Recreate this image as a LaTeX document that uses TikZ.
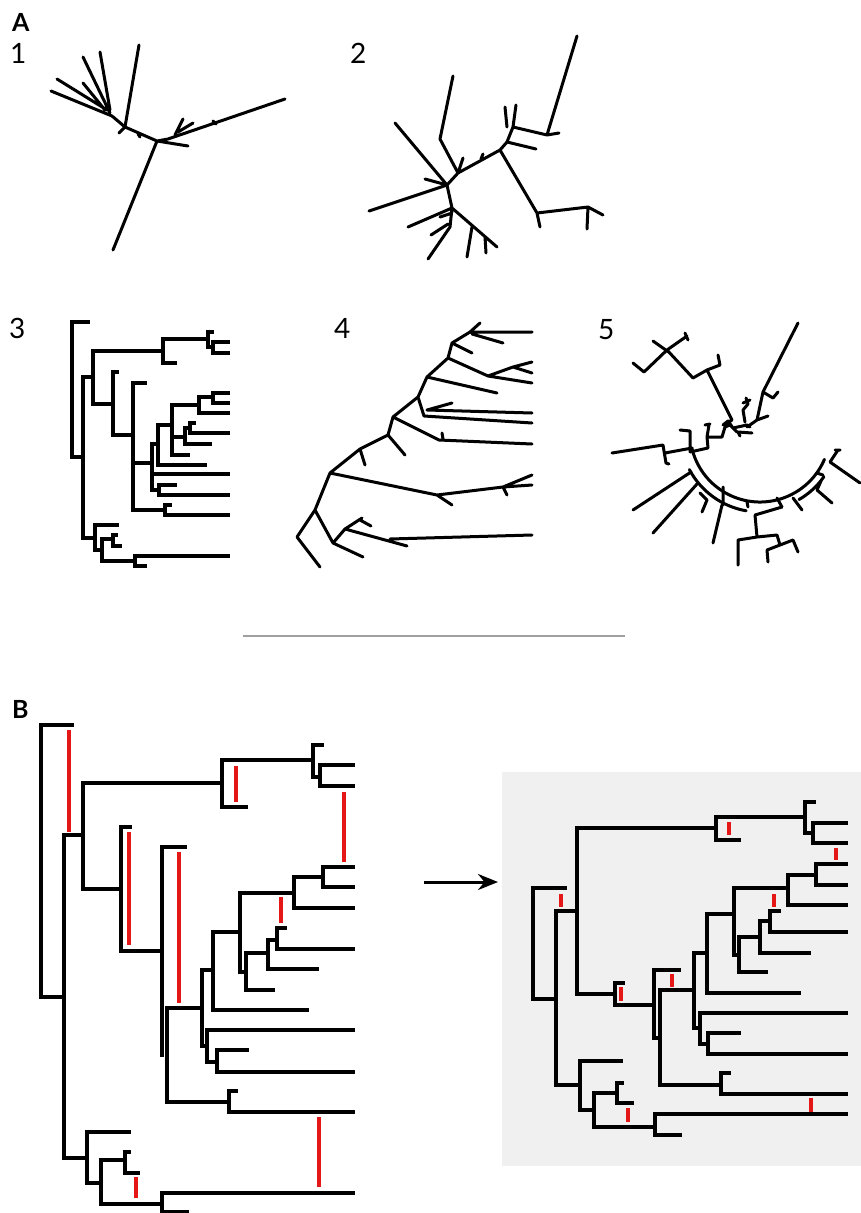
\documentclass[tikz,border=0pt]{standalone}
\usepackage{fontspec}
\newfontfamily\lab{Lato}
\usetikzlibrary{arrows.meta}
\definecolor{redl}{RGB}{228,22,22}
\definecolor{bgg}{RGB}{240,240,240}
\definecolor{sepg}{RGB}{160,160,160}
\begin{document}
\begin{tikzpicture}[x=1pt,y=-1pt,
 br/.style={line width=3pt,line cap=round,line join=round},
 cl/.style={line width=3.3pt,line cap=rect},
 rd/.style={line width=3.2pt,redl},
 lbl/.style={font=\lab\fontsize{28}{28}\selectfont,anchor=base west,inner sep=0pt},
 plbl/.style={font=\lab\bfseries\fontsize{25}{25}\selectfont,anchor=base west,inner sep=0pt}]
\useasboundingbox (0,0) rectangle (861,1213);

% ---------- labels ----------
\node[plbl] (labA) at (12,31) {A};
\node[lbl] (lab1) at (10,63) {1};
\node[lbl] (lab2) at (350,63) {2};
\node[lbl] (lab3) at (9,338) {3};
\node[lbl] (lab4) at (334,338) {4};
\node[lbl] (lab5) at (598,339) {5};
\node[plbl] (labB) at (12,718) {B};

% ---------- A1 ----------
\draw[br] (157,141)--(113,250) (157,141)--(188,146)
 (157,141)--(168,139)--(285,99)
 (175,135)--(183,119) (178,132)--(193,123) (213,121)--(216,124)
 (157,141)--(125,127) (140,137)--(138,134)
 (125,127)--(139,45) (125,127)--(119,133) (125,127)--(112,116)
 (112,116)--(51,91) (107,110)--(57,79) (110,113)--(83,57)
 (110,110)--(100,52) (105,110)--(83,83);

% ---------- A2 ----------
\draw[br] (447,185)--(369,211) (447,185)--(395,123) (447,185)--(425,179)
 (447,185)--(458,173) (458,173)--(440,139)--(453,76) (458,173)--(463,158)
 (458,173)--(500,150) (481,159)--(483,154)
 (500,150)--(507,142)--(513,127) (507,127)--(505,107) (513,127)--(516,105)
 (513,127)--(547,135)--(577,36) (547,135)--(559,133)
 (507,142)--(536,149)
 (500,150)--(537,213)--(540,227) (537,213)--(588,207)--(587,229) (588,207)--(603,215)
 (447,185)--(452,208)--(408,227) (452,208)--(497,247)
 (472,227)--(467,257) (485,237)--(486,253)
 (452,208)--(450,227)--(428,259) (448,224)--(431,235) (452,213)--(440,217);

% ---------- A3 ----------
\draw[cl] (72,322)--(72,457) (72,322)--(88,322) (72,457)--(83,457)
 (83,377)--(83,538) (83,377)--(93,377)
 (93,351)--(93,404) (93,351)--(163,351)
 (163,339)--(163,363) (163,339)--(208,339)
 (208,332)--(208,347) (208,332)--(212,332) (208,347)--(213,347)
 (213,342)--(213,353) (213,342)--(228,342) (213,353)--(228,353)
 (163,363)--(175,363)
 (93,404)--(113,404) (113,372)--(113,435) (113,372)--(117,372)
 (113,435)--(133,435) (133,383)--(133,510) (133,383)--(145,383)
 (133,463)--(152,463) (152,444)--(152,490) (152,444)--(158,444)
 (158,425)--(158,465) (158,425)--(172,425)
 (172,405)--(172,455) (172,405)--(199,405)
 (199,397)--(199,413) (199,397)--(213,397)
 (213,393)--(213,403) (213,393)--(228,393) (213,403)--(228,403)
 (199,413)--(228,413) (172,455)--(188,455)
 (172,437)--(185,437) (185,428)--(185,444) (185,428)--(190,428)
 (190,423)--(190,433) (190,423)--(194,423) (190,433)--(228,433)
 (185,444)--(210,444)
 (158,465)--(205,465) (152,474)--(228,474)
 (152,490)--(159,490) (159,485)--(159,495) (159,485)--(175,485) (159,495)--(228,495)
 (133,510)--(165,510) (165,505)--(165,515) (165,505)--(170,505) (165,515)--(228,515)
 (83,538)--(95,538) (95,525)--(95,550) (95,525)--(117,525)
 (95,550)--(102,550) (102,539)--(102,561)
 (102,539)--(113,539) (113,535)--(113,546) (113,535)--(116,535) (113,546)--(120,546)
 (102,561)--(135,561) (135,556)--(135,566) (135,556)--(228,556) (135,566)--(145,566);

% ---------- A4 ----------
\draw[br] (297,537)--(320,567) (297,537)--(315,510)
 (315,510)--(330,473) (315,510)--(333,543)
 (333,543)--(363,557) (333,543)--(345,529)--(407,546) (390,539)--(532,535)
 (345,529)--(362,518) (360,520)--(371,526)
 (330,473)--(437,495)--(452,505) (437,495)--(503,487)
 (503,487)--(532,475) (503,487)--(532,485) (503,487)--(507,495)
 (330,473)--(360,449) (360,449)--(365,465) (360,449)--(388,435)
 (388,435)--(405,455) (388,435)--(393,417)
 (393,417)--(439,440)--(532,444) (442,433)--(443,439)
 (393,417)--(418,397)
 (418,397)--(424,416)--(532,423) (427,410)--(532,413) (427,410)--(452,403)
 (418,397)--(427,377)
 (427,377)--(497,393) (427,377)--(448,358)
 (448,358)--(488,376)--(532,383) (488,376)--(513,367)
 (513,367)--(532,362) (513,367)--(532,373)
 (448,358)--(452,343) (452,343)--(472,353) (452,343)--(470,332)
 (470,332)--(532,332) (470,332)--(480,323) (472,334)--(503,343);

% ---------- A5 ----------
\draw[br] (633,363)--(644,372)--(667,350) (653,341)--(670,353)
 (667,350)--(687,336) (685,333)--(688,340)
 (667,350)--(693,378)--(707,370)--(720,365)--(718,355)
 (707,370)--(732,420)
 (732,420)--(723,425) (723,425)--(728,421)--(733,428)--(747,425)--(750,427)
 (745,422)--(743,410)--(748,404)--(746,398) (743,403)--(750,400)
 (747,427)--(757,420)--(768,416)
 (757,420)--(763,392)--(798,323)
 (763,392)--(773,398)--(778,392)
 (740,436)--(738,432)--(752,433)
 (680,430)--(690,431)--(690,452)
 (612,453)--(663,445)--(666,463)--(669,464)
 (665,453)--(692,448)
 (690,452)--(708,448)--(707,437)--(709,425) (705,425)--(710,424)
 (708,437)--(722,437)--(725,427)--(730,425)--(737,432);
\draw[br] (760,432) ++(167:70) arc[start angle=167,end angle=23,radius=70];
\draw[br] (760,432) ++(152:80) arc[start angle=152,end angle=100,radius=80];
\draw[br] (760,432) ++(60:78) arc[start angle=60,end angle=35,radius=78];
\draw[br] (691,472)--(633,510) (697,484)--(653,533)
 (700,493)--(707,500)--(702,512)
 (722,505)--(713,543) (723,487)--(723,505)
 (747,502)--(748,507) (777,498)--(782,507)
 (755,515)--(782,507) (755,515)--(757,537)
 (757,537)--(738,540)--(738,565)
 (757,537)--(777,535)--(780,545)
 (780,545)--(793,540)--(798,552)
 (780,545)--(767,550)--(768,562)
 (793,498)--(802,510)
 (817,473)--(823,475) (817,490)--(832,503) (817,490)--(821,481)
 (830,462)--(860,483) (830,462)--(838,450) (835,450)--(840,450);

% ---------- separator ----------
\coordinate (s1) at (243,636);
\coordinate (s2) at (625,636);
\draw[sepg,line width=1.6pt] (s1)--(s2);

% ---------- B left ----------
\draw[cl] (41,725)--(41,997) (41,725)--(72,725)
 (41,997)--(64,997) (64,835)--(64,1158)
 (64,835)--(83,835) (83,783)--(83,889)
 (83,783)--(222,783) (222,760)--(222,807) (222,807)--(246,807)
 (222,760)--(313,760) (313,745)--(313,777) (313,745)--(322,745)
 (313,777)--(320,777) (320,765)--(320,786) (320,765)--(353,765) (320,786)--(353,786)
 (83,889)--(121,889) (121,827)--(121,951) (121,827)--(130,827)
 (121,951)--(162,951) (162,847)--(162,1055) (162,847)--(185,847)
 (167,1008)--(167,1102)
 (167,1008)--(202,1008) (202,970)--(202,1046) (202,970)--(213,970)
 (213,932)--(213,1010) (213,932)--(240,932) (240,893)--(240,972)
 (240,893)--(294,893) (294,877)--(294,908)
 (294,877)--(323,877) (323,867)--(323,887) (323,867)--(353,867) (323,887)--(353,887)
 (294,908)--(353,908)
 (240,972)--(246,972) (246,953)--(246,990)
 (246,953)--(268,953) (268,940)--(268,969) (268,940)--(277,940)
 (277,928)--(277,949) (277,928)--(285,928) (277,949)--(353,949)
 (268,969)--(317,969) (246,990)--(273,990)
 (213,1010)--(307,1010)
 (202,1046)--(207,1046) (207,1030)--(207,1062) (207,1030)--(353,1030)
 (207,1062)--(217,1062) (217,1050)--(217,1072) (217,1050)--(247,1050) (217,1072)--(353,1072)
 (167,1102)--(229,1102) (229,1091)--(229,1112) (229,1091)--(236,1091) (229,1112)--(353,1112)
 (64,1158)--(87,1158) (87,1132)--(87,1183) (87,1132)--(129,1132)
 (87,1183)--(101,1183) (101,1160)--(101,1204)
 (101,1160)--(125,1160) (125,1152)--(125,1173) (125,1152)--(129,1152) (125,1173)--(138,1173)
 (101,1204)--(162,1204) (162,1193)--(162,1212) (162,1193)--(353,1193) (162,1212)--(187,1212);
\draw[rd] (69,730)--(69,832) (236,766)--(236,802) (344,792)--(344,862)
 (129,832)--(129,945) (179,852)--(179,1003) (281,897)--(281,923)
 (319,1117)--(319,1187) (136,1177)--(136,1198);

% ---------- arrow ----------
\coordinate (as) at (424,882);
\coordinate (ae) at (498,882);
\draw[line width=3pt,-{Stealth[length=20pt,width=16pt]}] (as)--(ae);

% ---------- B right ----------
\fill[bgg] (502,772) rectangle (861,1166);
\draw[cl] (533,888)--(533,999) (533,888)--(565,888) (533,999)--(556,999)
 (556,911)--(556,1085) (556,911)--(577,911) (577,828)--(577,994)
 (577,828)--(716,828) (716,817)--(716,840) (716,840)--(739,840)
 (716,817)--(805,817) (805,802)--(805,833) (805,802)--(814,802)
 (805,833)--(813,833) (813,823)--(813,843) (813,823)--(846,823) (813,843)--(846,843)
 (577,994)--(615,994) (615,983)--(615,1005) (615,983)--(623,983)
 (615,1005)--(654,1005) (654,970)--(654,1038) (654,970)--(679,970)
 (654,1038)--(660,1038) (660,990)--(660,1085)
 (660,990)--(694,990) (694,953)--(694,1028)
 (694,953)--(707,953) (707,914)--(707,993)
 (707,914)--(734,914) (734,888)--(734,955)
 (734,888)--(788,888) (788,875)--(788,905) (788,875)--(816,875)
 (816,864)--(816,885) (816,864)--(846,864) (816,885)--(846,885) (788,905)--(846,905)
 (734,955)--(739,955) (739,937)--(739,972)
 (739,937)--(760,937) (760,921)--(760,953) (760,921)--(770,921)
 (770,911)--(770,932) (770,911)--(779,911) (770,932)--(846,932) (760,953)--(809,953)
 (739,972)--(766,972)
 (707,993)--(799,993)
 (694,1028)--(700,1028) (700,1013)--(700,1044) (700,1013)--(846,1013)
 (700,1044)--(708,1044) (708,1033)--(708,1054) (708,1033)--(739,1033) (708,1054)--(846,1054)
 (660,1085)--(721,1085) (721,1073)--(721,1094) (721,1073)--(729,1073) (721,1094)--(846,1094)
 (556,1085)--(580,1085) (580,1061)--(580,1110) (580,1061)--(621,1061)
 (580,1110)--(594,1110) (594,1093)--(594,1127)
 (594,1093)--(617,1093) (617,1083)--(617,1103) (617,1083)--(622,1083) (617,1103)--(632,1103)
 (594,1127)--(655,1127) (655,1114)--(655,1135) (655,1114)--(846,1114) (655,1135)--(680,1135);
\draw[rd] (561,894)--(561,907) (729,822)--(729,835) (836,848)--(836,860)
 (621,987)--(621,1001) (672,974)--(672,987) (774,894)--(774,907)
 (811,1098)--(811,1112) (628,1108)--(628,1122);
\end{tikzpicture}
\end{document}
